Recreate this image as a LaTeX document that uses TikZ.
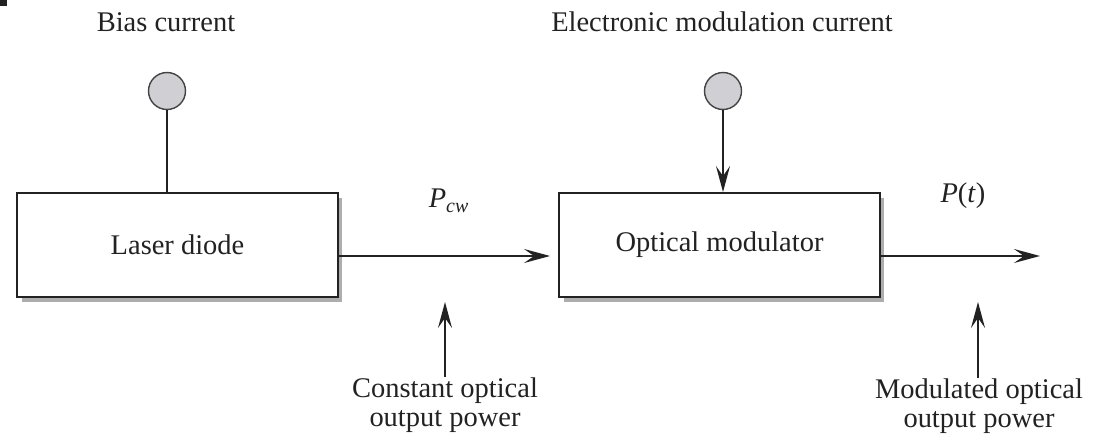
\documentclass[tikz,border=0pt]{standalone}
\usepackage{fontspec}
\setmainfont{Liberation Serif}
\usetikzlibrary{arrows.meta,shadows}
\definecolor{ink}{RGB}{34,34,34}
\definecolor{knobgray}{RGB}{208,208,212}
\begin{document}
\begin{tikzpicture}[x=0.02cm, y=-0.02cm,
	every node/.style = {font=\fontsize{16.2}{17}\selectfont, text=ink},
	block/.style = {draw=ink, line width=1.1pt, fill=white, minimum width=6.42cm, minimum height=2.08cm, inner sep=0,
		drop shadow={shadow xshift=0.09cm, shadow yshift=-0.1cm, fill=black!32, opacity=1}},
	knob/.style = {circle, draw=ink!85, line width=0.8pt, fill=knobgray, minimum size=0.74cm, inner sep=0},
	note/.style = {align=center, inner sep=0},
	wire/.style = {draw=ink, line width=0.9pt},
	feed/.style = {wire, -{Stealth[length=0.52cm, width=0.28cm, inset=0.2cm]}}]
	\useasboundingbox (0,0) rectangle (1101,435);
	\fill [ink] (0,0) rectangle (7,6);
	\node (biaslabel) at (166,22) {Bias current};
	\node (modlabel) at (722,22) {Electronic modulation current};
	\node [knob] (bias) at (167,91) {};
	\node [knob] (modsrc) at (723,91) {};
	\node [block] (laser) at (177.5,245) {Laser diode};
	\node [block] (modulator) at (719.5,245) {Optical modulator};
	\node [anchor=base] (pcw) at (449,208) {\textit{P}\textsubscript{\textit{cw}}};
	\node [anchor=base] (pt) at (963,203) {\textit{P}(\textit{t})};
	\node [note, anchor=north] (cwnote) at (445,377) {Constant optical\\output power};
	\node [note, anchor=north] (modnote) at (979,378) {Modulated optical\\output power};
	\coordinate (out) at (1040,256);
	\coordinate (cwtip) at (445,302);
	\coordinate (modtip) at (978,302);
	\draw [wire] (bias) -- (bias |- laser.north);
	\draw [feed] (modsrc) -- (modsrc |- modulator.north);
	\draw [feed, shorten >=0.16cm] ([yshift=-0.22cm]laser.east) -- ([yshift=-0.22cm]modulator.west);
	\draw [feed] ([yshift=-0.22cm]modulator.east) -- (out);
	\draw [feed] (cwtip |- cwnote.north) -- (cwtip);
	\draw [feed] (modtip |- modnote.north) -- (modtip);
\end{tikzpicture}
\end{document}
